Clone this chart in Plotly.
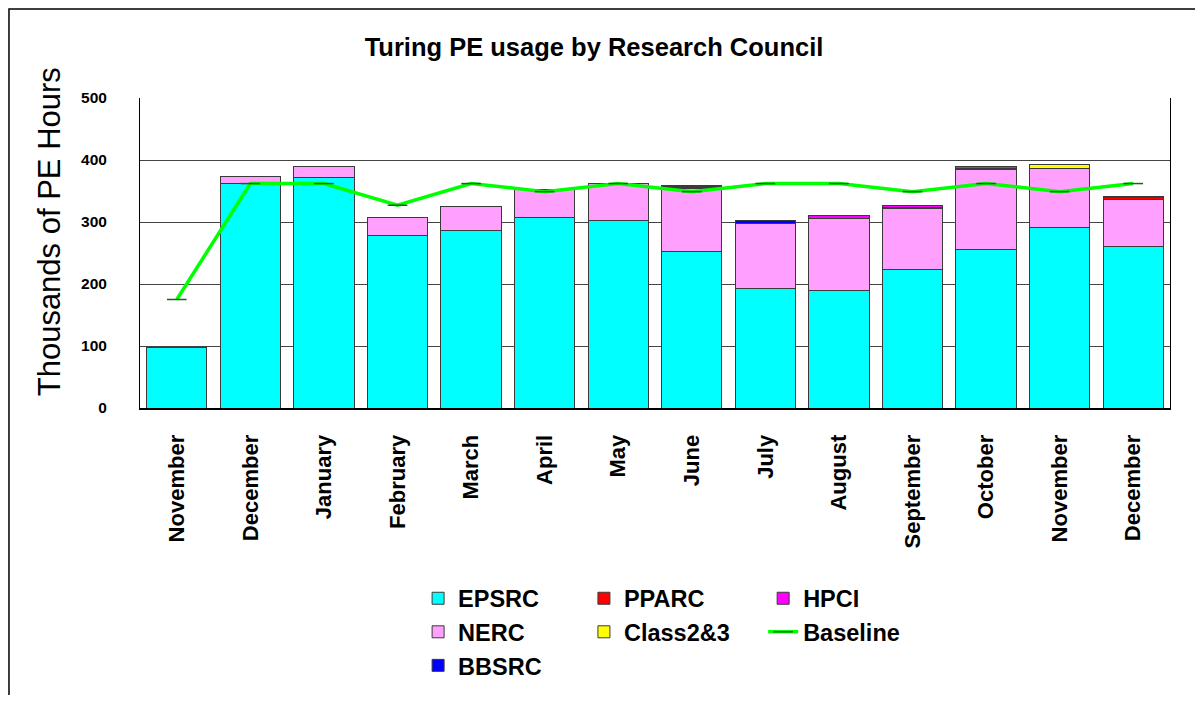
import plotly.graph_objects as go

months = ["November", "December", "January", "February", "March", "April", "May",
          "June", "July", "August", "September", "October", "November", "December"]
epsrc = [97, 362, 372, 278, 287, 308, 303, 252, 193, 190, 223, 255, 291, 260]
nerc = [0, 11, 17, 30, 38, 44, 59, 102, 105, 116, 98, 130, 96, 77]
bbsrc = [0, 0, 0, 0, 0, 0, 0, 0, 4, 0, 3, 1, 0, 0]
pparc = [0, 0, 0, 0, 0, 0, 0, 2, 0, 0, 0, 0, 0, 2]
class23 = [0, 0, 0, 0, 0, 0, 0, 2, 0, 0, 0, 0, 5, 2]
hpci = [0, 0, 0, 0, 0, 0, 0, 1, 0, 5, 2, 3, 0, 0]
baseline = [175, 362, 362, 327, 362, 349, 362, 349, 362, 362, 349, 362, 349, 362]
y_ticks = [0, 100, 200, 300, 400, 500]

x = list(range(len(months)))
FONT = "Liberation Sans, Arial, sans-serif"


def nz(vals):
    return [v if v else None for v in vals]


fig = go.Figure()
series = [
    ("EPSRC", epsrc, "#00FFFF", "legend"),
    ("NERC", nerc, "#FFA0FF", "legend"),
    ("BBSRC", bbsrc, "#0000FF", "legend"),
    ("PPARC", pparc, "#FF0000", "legend2"),
    ("Class2&3", class23, "#FFFF00", "legend2"),
    ("HPCI", hpci, "#FF00FF", "legend3"),
]
for name, vals, color, leg in series:
    fig.add_trace(go.Bar(
        x=x, y=nz(vals), name=name, legend=leg,
        marker=dict(color=color, line=dict(color="#3a3a3a", width=1)),
    ))

fig.add_trace(go.Scatter(
    x=x, y=baseline, name="Baseline", legend="legend3", mode="lines+markers",
    line=dict(color="#00FF00", width=3.5),
    marker=dict(symbol="line-ew-open", size=14, color="#1f5f1f",
                line=dict(color="#1f5f1f", width=1.5)),
))

legend_common = dict(
    orientation="v", yanchor="top", xanchor="left",
    font=dict(family=FONT, size=23.5, color="black", weight="bold"),
    bgcolor="rgba(0,0,0,0)", traceorder="normal", y=-0.5435,
)

fig.update_layout(
    width=1187, height=687,
    margin=dict(l=132, r=25, t=90, b=287, autoexpand=False),
    paper_bgcolor="white", plot_bgcolor="white",
    barmode="stack", bargap=0.18,
    font=dict(family=FONT, color="black"),
    title=dict(text="<b>Turing PE usage by Research Council</b>",
               font=dict(family=FONT, size=25.5, color="black"),
               x=0.4937, xanchor="center", y=0.943, yanchor="middle"),
    legend=dict(x=0.270, **legend_common),
    legend2=dict(x=0.431, **legend_common),
    legend3=dict(x=0.605, **legend_common),
    xaxis=dict(
        tickmode="array", tickvals=x, ticktext=months, tickangle=-90,
        range=[-0.5, len(months) - 0.5],
        tickfont=dict(family=FONT, size=22, color="black", weight="bold"),
        showline=True, linecolor="black", linewidth=2, ticks="",
        showgrid=False, ticklabelstandoff=16,
    ),
    yaxis=dict(
        range=[0, 500], tickvals=y_ticks,
        tickfont=dict(family=FONT, size=15.5, color="black", weight="bold"),
        showline=True, mirror=True, linecolor="black", linewidth=1,
        showgrid=True, gridcolor="#444444", gridwidth=1,
        zeroline=False, ticks="", ticklabelstandoff=29,
    ),
    annotations=[dict(text="Thousands of PE Hours", textangle=-90,
                      xref="paper", yref="paper", x=-0.0883, y=0.567,
                      xanchor="center", yanchor="middle", showarrow=False,
                      font=dict(family=FONT, size=31, color="black"))],
    shapes=[dict(type="rect", xref="paper", yref="paper",
                 x0=-0.1272, x1=1.5, y0=-2.0, y1=1.287,
                 line=dict(color="black", width=1.5), fillcolor="rgba(0,0,0,0)")],
)

fig.write_html("out.html")
